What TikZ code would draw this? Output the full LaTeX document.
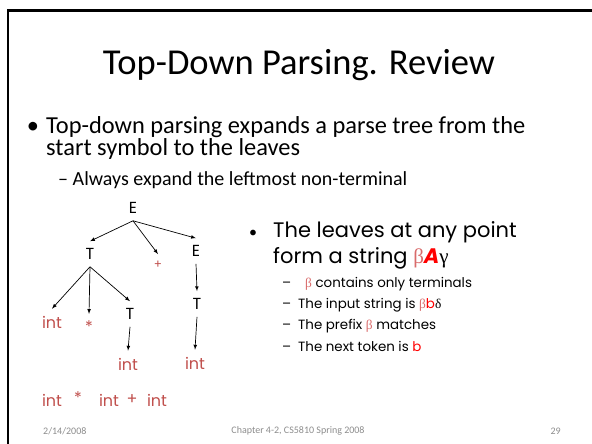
\documentclass[tikz,border=0pt]{standalone}
\usepackage{fontspec}
\usepackage{xcolor}
\setmainfont{Carlito}
\newfontfamily\comic{Poppins}
\newfontfamily\greek{Liberation Serif}
\definecolor{termred}{HTML}{C0504D}
\definecolor{betared}{HTML}{D96B6B}
\definecolor{footgray}{HTML}{8C8C8C}

\begin{document}
\begin{tikzpicture}[x=1pt,y=-1pt,>=latex,
    sym/.style={font=\comic\fontsize{16}{16}\selectfont, inner xsep=2pt, inner ysep=7pt},
    term/.style={sym, text=termred},
    body/.style={anchor=base west, inner sep=0pt, font=\fontsize{24.4}{24.4}\selectfont},
    note/.style={anchor=base west, inner sep=0pt, font=\comic\fontsize{21}{21}\selectfont},
    subnote/.style={anchor=base west, inner sep=0pt, font=\comic\fontsize{13.4}{13.4}\selectfont},
    foot/.style={inner sep=0pt, text=footgray, font=\fontsize{10}{10}\selectfont}]
    \useasboundingbox (0,0) rectangle (592,444);
    % slide frame
    \draw [line width=2.5pt] (8,444) -- (8,10.5) -- (592,10.5);

    % title and first bullet
    \path (299,75) node [anchor=base, inner sep=0pt, font=\fontsize{36.5}{36.5}\selectfont] (title) {Top-Down Parsing. Review};
    \path (33,133) node [anchor=base, inner sep=0pt, font=\fontsize{24.4}{24.4}\selectfont] (dot1) {•};
    \path (46,133) node [body] (line1) {Top-down parsing expands a parse tree from the};
    \path (46,155) node [body] (line2) {start symbol to the leaves};
    \path (58,185) node [body, font=\fontsize{20}{20}\selectfont] (sub1) {– Always expand the leftmost non-terminal};

    % parse tree
    \path (133,208) node [sym] (E0) {E};
    \path (90,254) node [sym] (T1) {T};
    \path (158,265) node [term, font=\comic\fontsize{12}{12}\selectfont] (plus1) {+};
    \path (196,251) node [sym] (E1) {E};
    \path (52,322) node [term] (int1) {int};
    \path (89,327) node [term] (star1) {*};
    \path (130,314) node [sym] (T2) {T};
    \path (128,364) node [term] (int2) {int};
    \path (197,304) node [sym] (T3) {T};
    \path (195,363) node [term] (int3) {int};
    \draw [->, line width=0.7pt] (E0.south) -- (T1.north);
    \draw [->, line width=0.7pt] (E0.south) -- (plus1.north);
    \draw [->, line width=0.7pt] (E0.south) -- (E1.north);
    \draw [->, line width=0.7pt] (T1.south) -- (int1.north);
    \draw [->, line width=0.7pt] (T1.south) -- (star1.north);
    \draw [->, line width=0.7pt] (T1.south) -- (T2.north);
    \draw [->, line width=0.7pt] (T2.south) -- (int2.north);
    \draw [->, line width=0.7pt] (E1.south) -- (T3.north);
    \draw [->, line width=0.7pt] (T3.south) -- (int3.north);

    % input string
    \path (52,400) node [term] (in1) {int};
    \path (78,398) node [term] (in2) {*};
    \path (109,400) node [term] (in3) {int};
    \path (132,400) node [term] (in4) {+};
    \path (157,400) node [term] (in5) {int};

    % second bullet
    \path (253,237) node [anchor=base, inner sep=0pt, font=\fontsize{16}{16}\selectfont] (dot2) {•};
    \path (273,237) node [note] (leaves1) {The leaves at any point};
    \path (273,263) node [note] (leaves2) {form a string {\greek\color{betared}β}{\bfseries\itshape\color{red}A}{\greek γ}};
    \path (282,287) node [subnote] (dash1) {–};
    \path (305,287) node [subnote] (fact1) {{\greek\color{betared}β} contains only terminals};
    \path (282,308) node [subnote] (dash2) {–};
    \path (298,308) node [subnote] (fact2) {The input string is {\greek\color{betared}β}{\color{red}b}{\greek δ}};
    \path (282,329) node [subnote] (dash3) {–};
    \path (298,329) node [subnote] (fact3) {The prefix {\greek\color{betared}β} matches};
    \path (282,351) node [subnote] (dash4) {–};
    \path (298,351) node [subnote] (fact4) {The next token is {\color{red}b}};

    % footer
    \path (43,431) node [foot, anchor=west] (date) {2/14/2008};
    \path (298,431) node [foot] (course) {Chapter 4-2, CS5810 Spring 2008};
    \path (561,431) node [foot, anchor=east] (page) {29};
\end{tikzpicture}
\end{document}
